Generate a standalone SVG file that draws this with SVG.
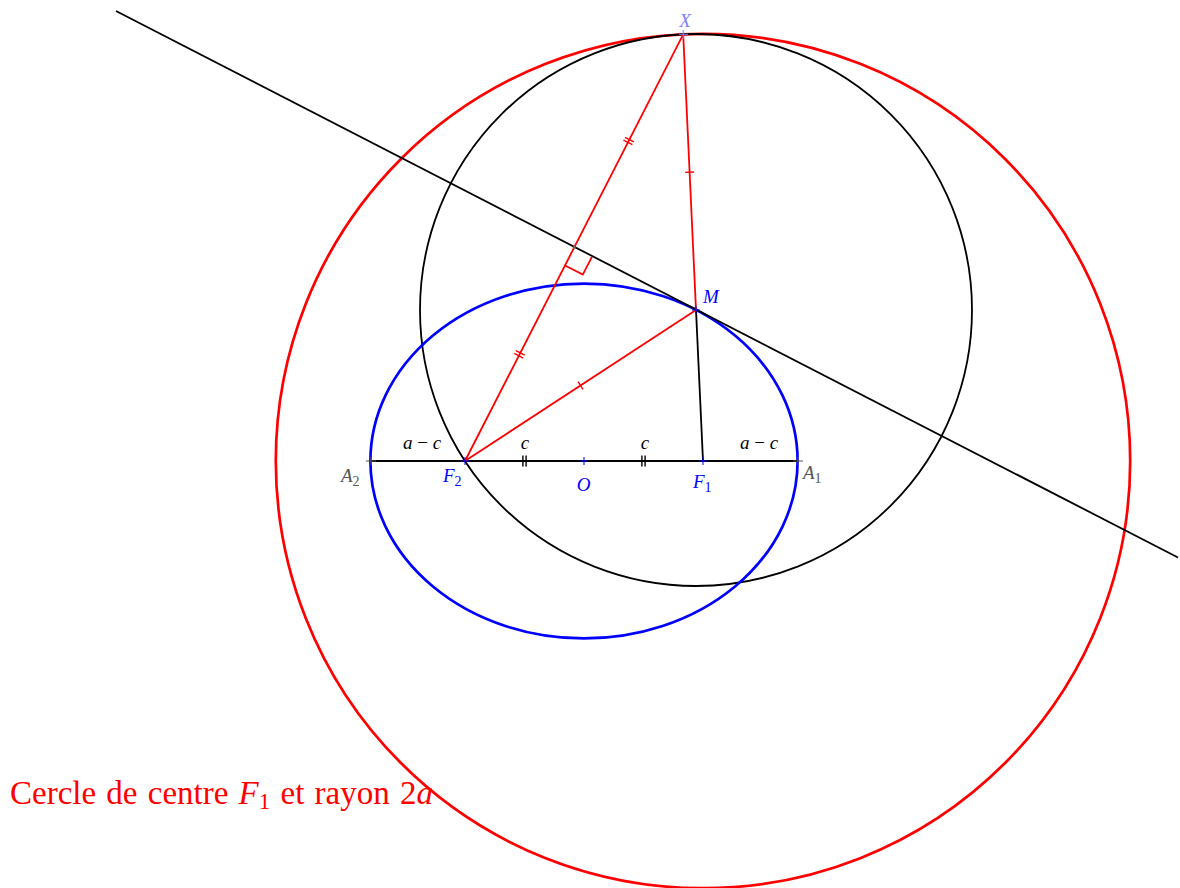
<svg xmlns="http://www.w3.org/2000/svg" width="1180" height="888" viewBox="0 0 1180 888">
<style>
.lbl{font-family:"Liberation Serif","DejaVu Serif",serif;font-style:italic;font-size:19px}
.sub{font-style:normal;font-size:14px}
.blk{stroke:#000;stroke-width:1.8;fill:none}
.red{stroke:#f00;stroke-width:1.8;fill:none}
.tick{stroke-width:1.4}
</style>
<rect width="1180" height="888" fill="#fff"/>
<g id="circle-red"><circle cx="703" cy="461" r="427.2" fill="none" stroke="#f00" stroke-width="2.7"/></g>
<g id="circle-black"><circle cx="696" cy="310" r="276" class="blk"/></g>
<g id="ellipse"><ellipse cx="584" cy="461" rx="213.6" ry="177.4" fill="none" stroke="#00f" stroke-width="2.7"/></g>
<g id="connectors">
<line x1="116" y1="11" x2="1178" y2="557.5" class="blk"/>
<line x1="371" y1="461" x2="798" y2="461" class="blk"/>
<line x1="696" y1="310" x2="703" y2="461" class="blk"/>
<line x1="465" y1="461" x2="683.2" y2="34.3" class="red"/>
<line x1="683.2" y1="34.3" x2="696" y2="310" class="red"/>
<line x1="465" y1="461" x2="696" y2="310" class="red"/>
<polyline points="565,265.5 582.8,274.6 591.9,256.8" class="red"/>
<g class="red tick">
<g transform="translate(519.55,354.3) rotate(-62.9)"><line x1="-1.6" y1="-5" x2="-1.6" y2="5"/><line x1="1.6" y1="-5" x2="1.6" y2="5"/></g>
<g transform="translate(628.65,140.97) rotate(-62.9)"><line x1="-1.6" y1="-5" x2="-1.6" y2="5"/><line x1="1.6" y1="-5" x2="1.6" y2="5"/></g>
<g transform="translate(689.6,172.2) rotate(87.3)"><line x1="0" y1="-4.5" x2="0" y2="4.5"/></g>
<g transform="translate(580.5,385.5) rotate(-33.2)"><line x1="0" y1="-4.5" x2="0" y2="4.5"/></g>
</g>
<g class="blk tick"><line x1="522.9" y1="455.5" x2="522.9" y2="466.5"/><line x1="526.1" y1="455.5" x2="526.1" y2="466.5"/><line x1="641.9" y1="455.5" x2="641.9" y2="466.5"/><line x1="645.1" y1="455.5" x2="645.1" y2="466.5"/></g>
<g stroke="#555" stroke-width="1"><line x1="366" y1="461" x2="376" y2="461"/><line x1="371" y1="457" x2="371" y2="465"/><line x1="793" y1="461" x2="803" y2="461"/><line x1="798" y1="457" x2="798" y2="465"/></g>
<g stroke="#00f" stroke-width="1"><line x1="461" y1="461" x2="469" y2="461"/><line x1="465" y1="457" x2="465" y2="465"/><line x1="580" y1="461" x2="588" y2="461"/><line x1="584" y1="457" x2="584" y2="465"/><line x1="699" y1="461" x2="707" y2="461"/><line x1="703" y1="457" x2="703" y2="465"/><line x1="692" y1="310" x2="700" y2="310"/><line x1="696" y1="306" x2="696" y2="314"/></g>
<g stroke="#8080ff" stroke-width="1"><line x1="679" y1="34.3" x2="688" y2="34.3"/><line x1="683.2" y1="30" x2="683.2" y2="39"/></g>
<circle cx="574.1" cy="247.6" r="1.5" fill="#666"/>
</g>
<g id="label-A2"><text x="341" y="482" class="lbl" fill="#555">A<tspan class="sub" dy="4">2</tspan></text></g>
<g id="label-F2"><text x="443" y="482" class="lbl" fill="#00f">F<tspan class="sub" dy="4">2</tspan></text></g>
<g id="label-O"><text x="583.5" y="491" class="lbl" fill="#00f" text-anchor="middle">O</text></g>
<g id="label-F1"><text x="693" y="488" class="lbl" fill="#00f">F<tspan class="sub" dy="4">1</tspan></text></g>
<g id="label-A1"><text x="803" y="479" class="lbl" fill="#555">A<tspan class="sub" dy="4">1</tspan></text></g>
<g id="label-M"><text x="703" y="303" class="lbl" fill="#00f">M</text></g>
<g id="label-X"><text x="685" y="27" class="lbl" fill="#8080ff" text-anchor="middle">X</text></g>
<g id="label-amc-left"><text x="422" y="449" class="lbl" fill="#000" text-anchor="middle">a <tspan font-style="normal">−</tspan> c</text></g>
<g id="label-c-left"><text x="525" y="449" class="lbl" fill="#000" text-anchor="middle">c</text></g>
<g id="label-c-right"><text x="645" y="449" class="lbl" fill="#000" text-anchor="middle">c</text></g>
<g id="label-amc-right"><text x="759" y="449" class="lbl" fill="#000" text-anchor="middle">a <tspan font-style="normal">−</tspan> c</text></g>
<g id="caption"><text x="10" y="804" font-family="Liberation Serif,DejaVu Serif,serif" font-size="33" word-spacing="2" fill="#f00">Cercle de centre <tspan font-style="italic">F</tspan><tspan font-size="23" dy="5">1</tspan><tspan dy="-5"> et rayon 2</tspan><tspan font-style="italic">a</tspan></text></g>
</svg>
